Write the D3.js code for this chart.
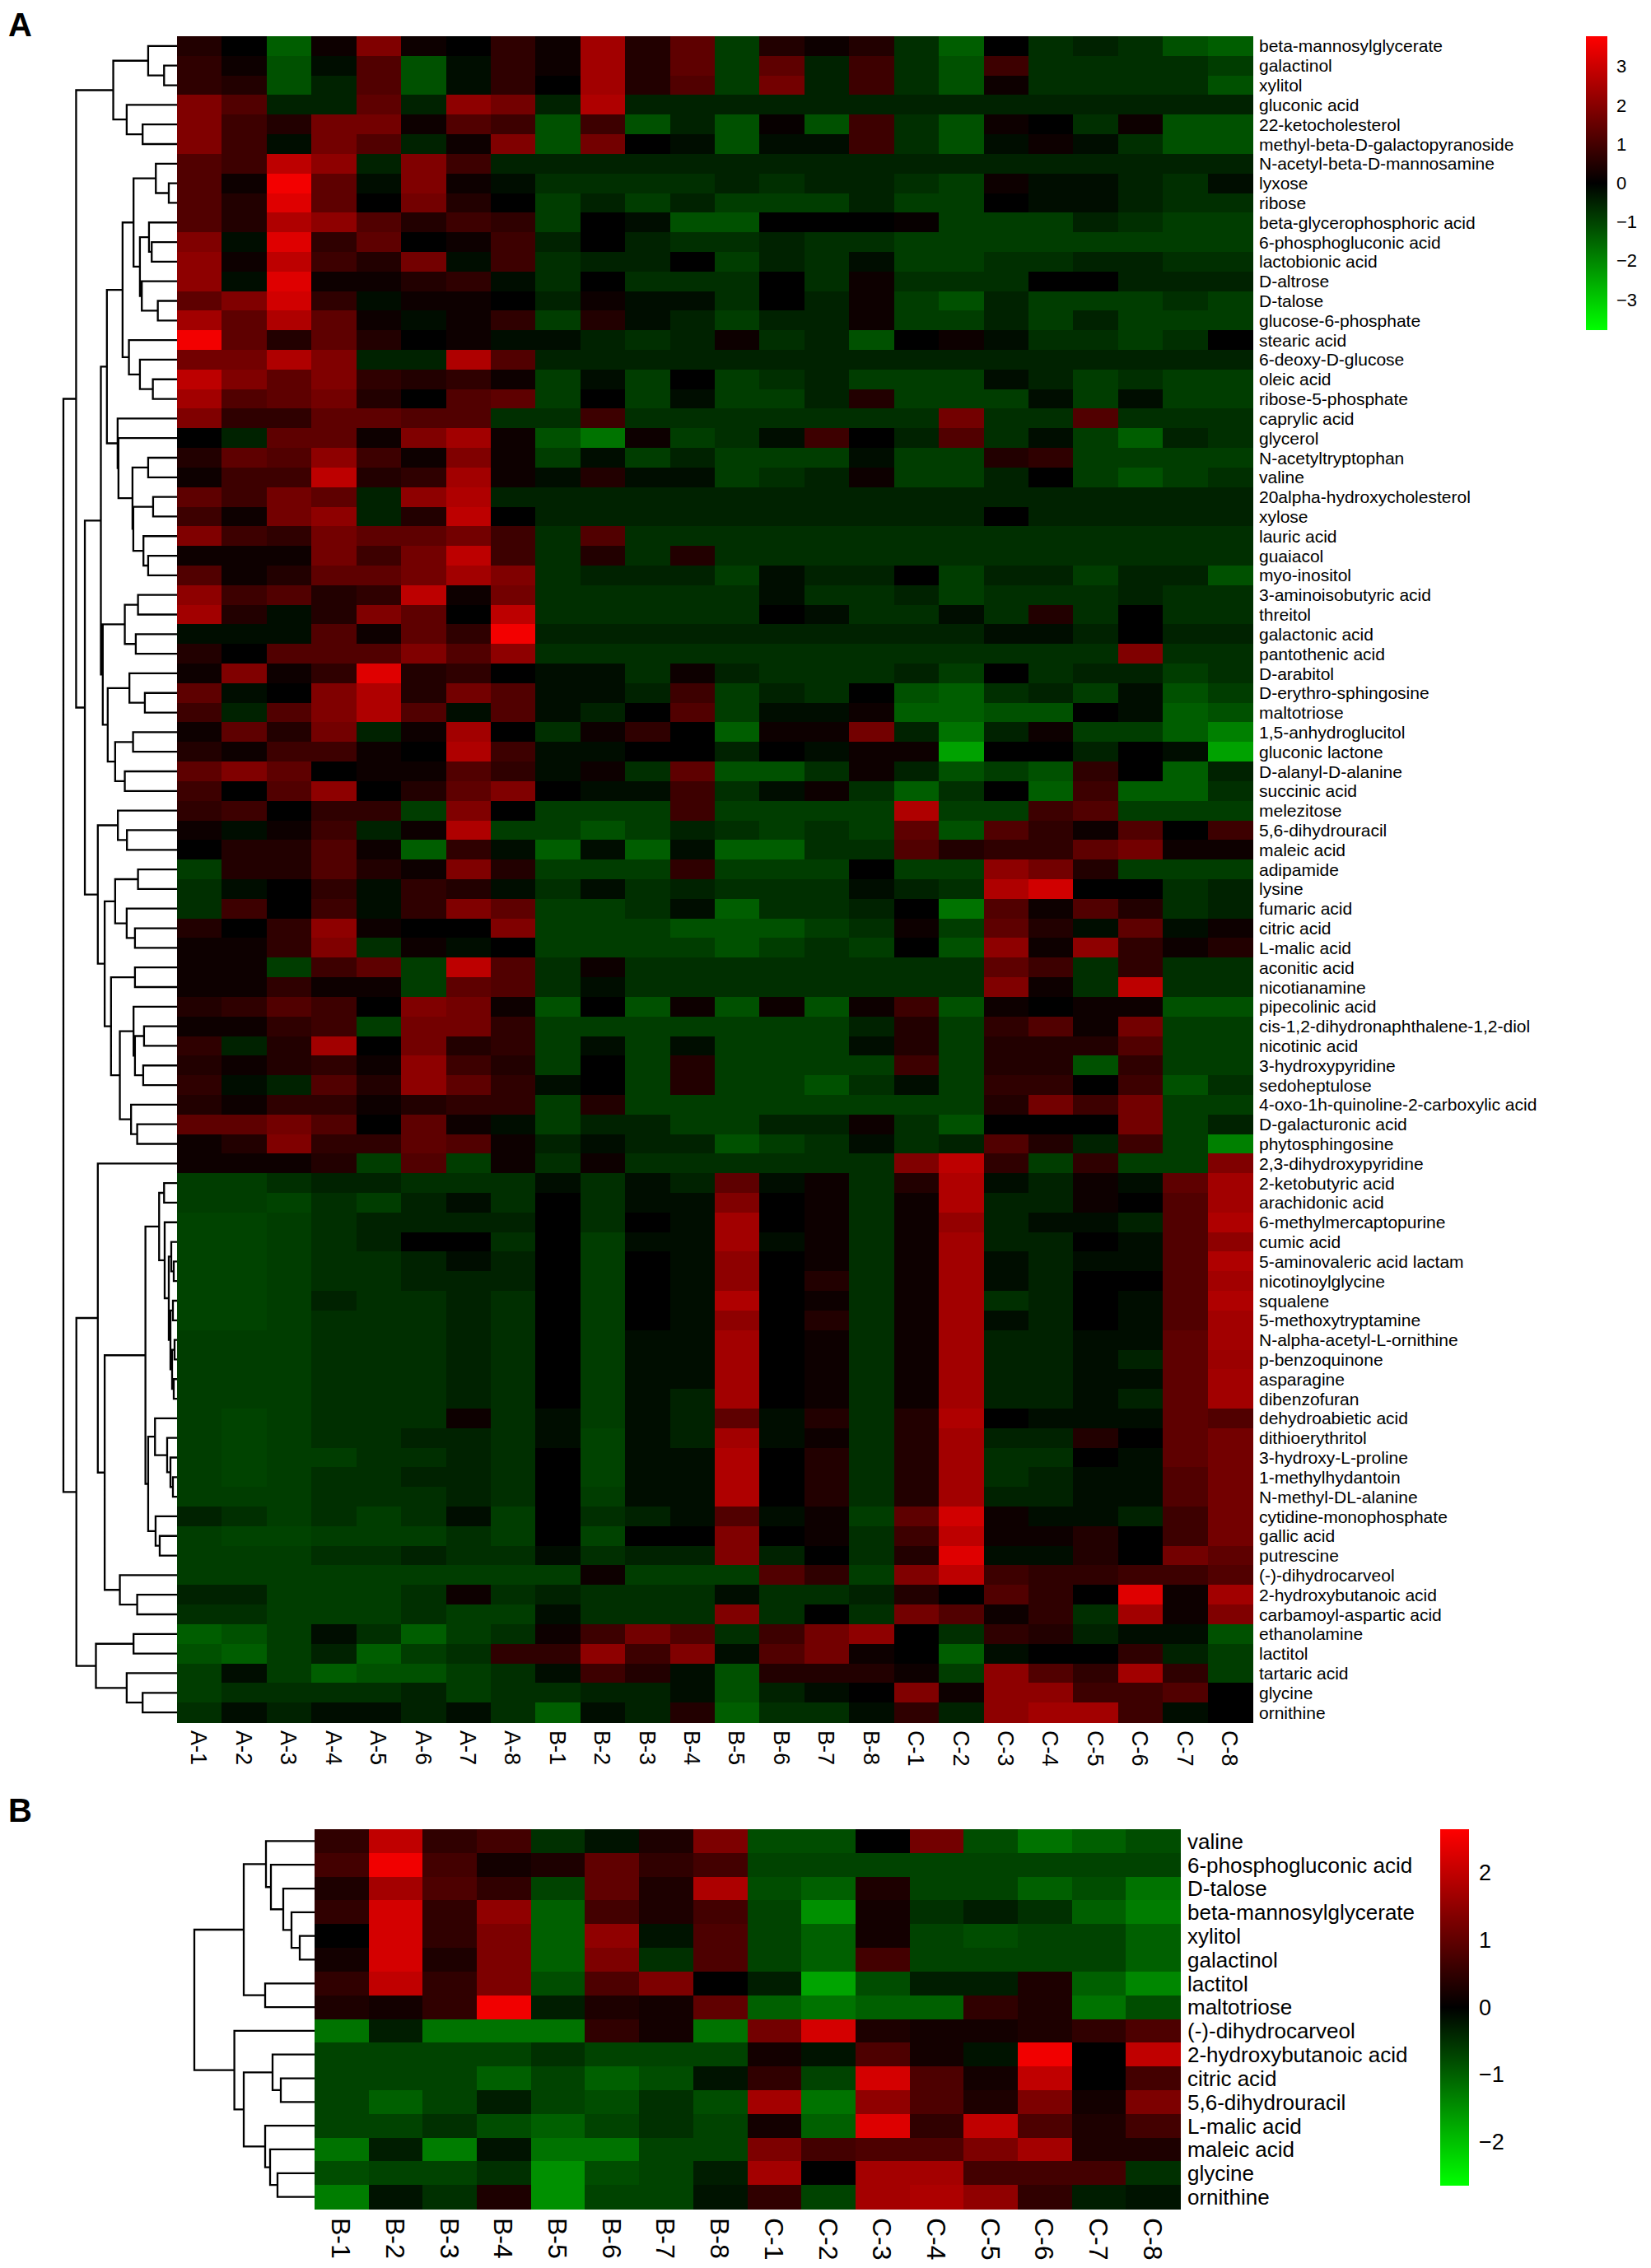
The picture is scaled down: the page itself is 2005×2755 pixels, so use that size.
<!DOCTYPE html>
<html>
<head>
<meta charset="utf-8">
<script src="https://cdn.jsdelivr.net/npm/d3@7"></script>
<style>
  body { margin: 0; background: #fff; }
  text { font-family: "Liberation Sans", Arial, sans-serif; fill: #000; }
</style>
</head>
<body>
<svg id="fig"></svg>
<script>
// ---- Panel A data ----
const colsA = ["A-1","A-2","A-3","A-4","A-5","A-6","A-7","A-8","B-1","B-2","B-3","B-4","B-5","B-6","B-7","B-8","C-1","C-2","C-3","C-4","C-5","C-6","C-7","C-8"];
const rowsA = ["beta-mannosylglycerate","galactinol","xylitol","gluconic acid","22-ketocholesterol","methyl-beta-D-galactopyranoside","N-acetyl-beta-D-mannosamine","lyxose","ribose","beta-glycerophosphoric acid","6-phosphogluconic acid","lactobionic acid","D-altrose","D-talose","glucose-6-phosphate","stearic acid","6-deoxy-D-glucose","oleic acid","ribose-5-phosphate","caprylic acid","glycerol","N-acetyltryptophan","valine","20alpha-hydroxycholesterol","xylose","lauric acid","guaiacol","myo-inositol","3-aminoisobutyric acid","threitol","galactonic acid","pantothenic acid","D-arabitol","D-erythro-sphingosine","maltotriose","1,5-anhydroglucitol","gluconic lactone","D-alanyl-D-alanine","succinic acid","melezitose","5,6-dihydrouracil","maleic acid","adipamide","lysine","fumaric acid","citric acid","L-malic acid","aconitic acid","nicotianamine","pipecolinic acid","cis-1,2-dihydronaphthalene-1,2-diol","nicotinic acid","3-hydroxypyridine","sedoheptulose","4-oxo-1h-quinoline-2-carboxylic acid","D-galacturonic acid","phytosphingosine","2,3-dihydroxypyridine","2-ketobutyric acid","arachidonic acid","6-methylmercaptopurine","cumic acid","5-aminovaleric acid lactam","nicotinoylglycine","squalene","5-methoxytryptamine","N-alpha-acetyl-L-ornithine","p-benzoquinone","asparagine","dibenzofuran","dehydroabietic acid","dithioerythritol","3-hydroxy-L-proline","1-methylhydantoin","N-methyl-DL-alanine","cytidine-monophosphate","gallic acid","putrescine","(-)-dihydrocarveol","2-hydroxybutanoic acid","carbamoyl-aspartic acid","ethanolamine","lactitol","tartaric acid","glycine","ornithine"];
const valuesA = [
[0.5,0,-1.4,0.2,1.9,0.2,0,0.7, 0.2,2.4,0.5,1.4,-0.9,0.5,0.2,0.5, -0.7,-1.4,0,-0.7,-0.5,-0.7,-1.2,-1.4],
[0.7,0.2,-1.2,-0.2,1.2,-1.2,-0.2,0.7, 0.2,2.4,0.5,1.4,-0.9,1.4,-0.5,0.9, -0.7,-1.2,0.9,-0.7,-0.7,-0.7,-0.7,-0.9],
[0.7,0.5,-1.2,-0.5,1.2,-1.2,-0.2,0.7, 0,2.4,0.5,1.2,-0.9,1.7,-0.5,0.9, -0.7,-1.2,0.2,-0.7,-0.7,-0.7,-0.7,-1.2],
[1.9,1.2,-0.5,-0.5,1.4,-0.5,2.1,1.7, -0.5,2.6,-0.5,-0.5,-0.5,-0.5,-0.5,-0.5, -0.5,-0.5,-0.5,-0.5,-0.5,-0.5,-0.5,-0.5],
[1.9,0.9,0.5,1.7,1.7,0.2,1.2,0.9, -1.2,0.9,-1.2,-0.5,-1.2,0.1,-1.2,0.9, -0.7,-1.2,0.2,0,-0.7,0.2,-1.2,-1.2],
[1.9,0.9,-0.2,1.7,1.2,-0.5,0.2,1.9, -1.2,1.7,0,-0.2,-1.2,-0.2,-0.2,0.9, -0.7,-1.2,-0.2,0.2,-0.2,-0.7,-1.2,-1.2],
[1.2,0.9,2.8,2.1,-0.5,1.9,0.9,-0.5, -0.5,-0.5,-0.5,-0.5,-0.5,-0.5,-0.5,-0.5, -0.5,-0.5,-0.5,-0.5,-0.5,-0.5,-0.5,-0.5],
[1.2,0.2,3.6,1.4,-0.2,1.9,0.2,-0.2, -0.7,-0.7,-0.7,-0.7,-0.5,-0.7,-0.5,-0.5, -0.7,-0.9,0.2,-0.2,-0.2,-0.5,-0.7,-0.2],
[1.2,0.5,3.3,1.4,0,1.7,0.5,0, -0.9,-0.5,-0.9,-0.5,-0.9,-0.9,-0.9,-0.5, -0.9,-0.9,0,-0.2,-0.2,-0.5,-0.7,-0.7],
[1.2,0.5,2.6,2.1,1.2,0.5,0.9,0.7, -0.9,0,-0.2,-1.2,-1.2,0,0,0, 0.1,-0.9,-0.9,-0.9,-0.5,-0.7,-0.9,-0.9],
[1.9,-0.2,3.3,0.7,1.4,0,0.2,0.9, -0.5,0,-0.5,-0.7,-0.7,-0.5,-0.7,-0.7, -0.9,-0.9,-0.9,-0.9,-0.9,-0.9,-0.9,-0.9],
[2.1,0.2,2.8,0.9,0.5,1.7,-0.2,0.9, -0.7,-0.5,-0.5,0,-0.9,-0.5,-0.7,-0.2, -0.9,-0.9,-0.7,-0.7,-0.5,-0.5,-0.7,-0.7],
[2.1,-0.2,3.3,0.2,0.2,0.5,0.7,-0.2, -0.7,0,-0.7,-0.7,-0.7,0,-0.7,0.2, -0.7,-0.7,-0.7,0,0,-0.5,-0.5,-0.5],
[1.4,1.9,3.1,0.7,-0.2,0.2,0.2,0, -0.5,0.2,-0.2,-0.2,-0.7,0,-0.5,0.2, -0.9,-1.2,-0.5,-0.9,-0.9,-0.9,-0.7,-0.9],
[2.4,1.4,2.6,1.4,0.2,-0.2,0.2,0.7, -0.9,0.5,-0.2,-0.5,-0.9,-0.5,-0.5,0.2, -0.9,-0.9,-0.5,-0.9,-0.5,-0.9,-0.9,-0.9],
[3.6,1.4,0.5,1.4,0.5,0,0.2,-0.2, -0.2,-0.5,-0.7,-0.5,0.2,-0.7,-0.5,-1.2, 0,0.2,-0.2,-0.7,-0.7,-0.9,-0.7,0],
[1.7,1.7,2.6,1.9,-0.5,-0.5,2.6,1.2, -0.5,-0.5,-0.5,-0.5,-0.5,-0.5,-0.5,-0.5, -0.5,-0.5,-0.5,-0.5,-0.5,-0.5,-0.5,-0.5],
[2.8,1.9,1.4,1.9,0.7,0.5,0.7,0.2, -0.9,-0.2,-0.9,0,-0.9,-0.7,-0.5,-0.9, -0.9,-0.9,-0.2,-0.5,-0.9,-0.7,-0.9,-0.9],
[2.4,1.2,1.4,1.7,0.5,0,1.2,1.4, -0.9,0,-0.9,-0.2,-0.9,-0.9,-0.5,0.5, -0.9,-0.9,-0.9,-0.2,-0.9,-0.2,-0.9,-0.9],
[1.9,0.7,0.7,1.4,1.4,1.2,1.2,-0.7, -0.7,0.9,-0.7,-0.7,-0.7,-0.7,-0.7,-0.7, -0.7,1.7,-0.7,-0.7,1.2,-0.7,-0.7,-0.7],
[0,-0.5,1.4,1.4,0.2,1.9,2.4,0.2, -1.2,-1.7,0.2,-0.9,-0.7,-0.2,0.9,0, -0.5,1.2,-0.7,-0.2,-0.9,-1.4,-0.5,-0.7],
[0.5,1.4,1.2,2.1,0.9,0.2,1.9,0.2, -0.9,-0.2,-0.9,-0.5,-0.9,-0.9,-0.9,-0.2, -0.9,-0.9,0.5,0.7,-0.9,-0.9,-0.9,-0.9],
[0.2,0.9,0.9,2.8,0.5,0.7,2.4,0.2, -0.2,0.5,-0.2,-0.2,-0.9,-0.7,-0.5,0.2, -0.9,-0.9,-0.5,0,-0.9,-1.2,-0.9,-0.7],
[1.4,0.9,1.7,1.4,-0.5,2.1,2.6,-0.5, -0.5,-0.5,-0.5,-0.5,-0.5,-0.5,-0.5,-0.5, -0.5,-0.5,-0.5,-0.5,-0.5,-0.5,-0.5,-0.5],
[0.9,0.2,1.7,2.1,-0.5,0.5,2.8,0, -0.5,-0.5,-0.5,-0.5,-0.5,-0.5,-0.5,-0.5, -0.5,-0.5,0,-0.5,-0.5,-0.5,-0.5,-0.5],
[1.9,0.9,0.7,1.7,1.4,1.4,1.7,0.9, -0.7,1.2,-0.7,-0.7,-0.7,-0.7,-0.7,-0.7, -0.7,-0.7,-0.7,-0.7,-0.7,-0.7,-0.7,-0.7],
[0.2,0.2,0.2,1.7,0.9,1.7,2.8,0.9, -0.7,0.5,-0.7,0.5,-0.7,-0.7,-0.7,-0.7, -0.7,-0.7,-0.7,-0.7,-0.7,-0.7,-0.7,-0.7],
[1.2,0.2,0.5,1.4,1.4,1.7,2.4,1.9, -0.7,-0.5,-0.5,-0.5,-0.9,-0.2,-0.5,-0.5, 0,-0.9,-0.5,-0.5,-0.9,-0.5,-0.5,-1.2],
[2.1,0.9,1.2,0.5,0.7,2.8,0.2,1.7, -0.7,-0.7,-0.7,-0.7,-0.7,-0.2,-0.7,-0.7, -0.5,-0.9,-0.7,-0.7,-0.7,-0.5,-0.7,-0.7],
[2.4,0.5,-0.2,0.5,1.9,1.4,0,2.8, -0.7,-0.7,-0.7,-0.7,-0.7,0,-0.2,-0.7, -0.7,-0.2,-0.7,0.5,-0.7,0,-0.7,-0.7],
[-0.2,-0.2,-0.2,1.2,0.2,1.4,0.7,3.6, -0.5,-0.5,-0.5,-0.5,-0.5,-0.5,-0.5,-0.5, -0.5,-0.5,-0.2,-0.2,-0.5,0,-0.5,-0.5],
[0.5,0,1.2,1.2,1.2,1.9,1.2,2.1, -0.7,-0.7,-0.7,-0.7,-0.7,-0.7,-0.7,-0.7, -0.7,-0.7,-0.7,-0.7,-0.7,1.9,-0.7,-0.7],
[0.2,1.9,0.2,0.7,3.3,0.5,0.7,0, -0.2,-0.2,-0.7,0.2,-0.5,-0.7,-0.7,-0.7, -0.5,-0.9,0,-0.7,-0.5,-0.5,-0.9,-0.7],
[1.4,-0.2,0,1.9,2.6,0.5,1.7,1.2, -0.2,-0.2,-0.5,0.9,-0.9,-0.5,-0.7,0, -1.2,-1.4,-0.7,-0.5,-0.9,-0.2,-1.2,-0.9],
[0.9,-0.5,1.2,1.9,2.6,1.2,-0.2,1.2, -0.2,-0.5,0,1.2,-0.9,-0.2,-0.2,0.2, -1.4,-1.4,-1.2,-1.2,0,-0.2,-1.4,-1.2],
[0.2,1.4,0.5,1.7,-0.5,0.2,2.4,0, -0.7,0.2,0.7,0,-1.4,0.2,0.2,1.7, -0.5,-1.7,-0.5,0.2,-0.9,-0.9,-1.4,-1.9],
[0.5,0.2,0.9,0.9,0.2,0,2.6,0.9, -0.2,-0.2,0,0,-0.5,0,-0.2,0.2, 0.2,-2.4,0,0,-0.5,0,-0.2,-2.4],
[1.4,1.9,1.4,0,0.2,0.2,1.2,0.7, -0.2,0.2,-0.7,1.4,-1.2,-1.2,-0.7,0.2, -0.5,-1.2,-0.9,-1.2,0.7,0,-1.4,-0.5],
[0.9,0,1.2,2.1,0,0.5,1.4,1.9, 0,-0.2,-0.2,0.9,-0.7,-0.2,0.2,-0.7, -1.4,-0.7,0,-1.4,0.9,-1.4,-1.4,-0.7],
[0.7,0.9,0,0.7,0.7,-0.9,1.9,0, -0.9,-0.9,-0.9,0.9,-0.9,-0.9,-0.9,-0.9, 2.6,-0.9,-0.9,0.9,1.2,-0.9,-0.9,-0.9],
[0.2,-0.2,0.2,0.9,-0.5,0.2,2.6,-0.9, -0.9,-1.2,-0.9,-0.5,-0.7,-0.9,-0.7,-0.9, 1.4,-1.2,1.2,0.7,0.2,1.2,0,0.9],
[0,0.5,0.5,1.2,0.2,-1.4,0.7,-0.2, -1.4,-0.2,-1.4,-0.2,-1.4,-1.4,-0.7,-0.7, 1.2,0.5,0.7,0.7,1.4,1.7,0.2,0.2],
[-0.9,0.5,0.5,1.2,0.5,0.2,1.9,0.5, -0.9,-0.9,-0.9,0.7,-0.9,-0.9,-0.9,0, -0.9,-0.9,2.1,1.7,0.5,-0.9,-0.9,-0.9],
[-0.7,-0.2,0,0.7,-0.2,0.7,0.5,-0.2, -0.7,-0.2,-0.7,-0.5,-0.7,-0.7,-0.7,-0.2, -0.5,-0.7,2.6,3.1,0,0,-0.7,-0.5],
[-0.7,0.9,0,0.9,-0.2,0.7,1.9,1.4, -0.9,-0.9,-0.7,-0.2,-1.4,-0.7,-0.7,-0.5, 0,-1.7,1.2,0.2,1.2,0.5,-0.7,-0.5],
[0.5,0,0.7,2.1,0.2,0,0,1.9, -0.9,-0.9,-0.9,-1.2,-1.2,-1.2,-0.9,-0.7, 0.2,-0.9,1.4,0.5,-0.2,1.4,-0.2,0.2],
[0.2,0.2,0.7,1.9,-0.7,0.2,-0.2,0, -0.9,-0.9,-0.9,-0.9,-1.2,-0.9,-0.7,-0.9, 0,-1.2,2.1,0.2,2.1,0.7,0.2,0.5],
[0.2,0.2,-0.9,0.9,1.4,-0.9,2.8,1.2, -0.7,0.2,-0.7,-0.7,-0.7,-0.7,-0.7,-0.7, -0.7,-0.7,1.4,0.9,-0.7,0.7,-0.7,-0.7],
[0.2,0.2,0.7,0.2,0.2,-0.9,1.4,1.2, -0.7,-0.2,-0.7,-0.7,-0.7,-0.7,-0.7,-0.7, -0.7,-0.7,1.9,0.2,-0.7,2.8,-0.7,-0.7],
[0.5,0.7,1.2,0.9,0,1.9,1.7,0.2, -1.2,0,-1.2,0.2,-1.2,0.2,-1.2,0.2, 0.9,-1.2,0.2,0,0.2,0.2,-1.2,-1.2],
[0.2,0.2,0.7,0.9,-0.9,1.7,1.7,0.7, -0.9,-0.9,-0.9,-0.9,-0.9,-0.9,-0.9,-0.5, 0.5,-0.9,0.7,1.2,0.2,1.7,-0.9,-0.9],
[0.7,-0.5,0.5,2.4,0,1.7,0.5,0.7, -0.9,-0.2,-0.9,-0.2,-0.9,-0.9,-0.9,-0.2, 0.5,-0.9,0.5,0.5,0.5,1.2,-0.9,-0.9],
[0.5,0.2,0.5,0.7,0.2,2.1,0.9,0.5, -0.9,0,-0.9,0.5,-0.9,-0.9,-0.9,-0.9, 0.9,-0.9,0.5,0.5,-1.2,0.7,-0.9,-0.9],
[0.7,-0.2,-0.5,1.2,0.5,2.1,1.4,0.7, -0.2,0,-0.9,0.5,-0.9,-0.9,-1.2,-0.7, -0.2,-0.9,0.7,0.7,0,0.9,-1.2,-0.7],
[0.5,0.2,0.7,0.7,0.2,0.5,0.7,0.7, -0.9,0.5,-0.9,-0.9,-0.9,-0.9,-0.9,-0.9, -0.9,-0.9,0.5,1.7,0.9,1.7,-0.9,-0.9],
[1.4,1.4,1.7,1.2,0,1.4,0.2,-0.2, -0.9,-0.5,-0.5,-0.9,-0.9,-0.5,-0.5,0.2, -0.7,-1.2,0,0,0,1.7,-0.9,-0.5],
[0.2,0.5,1.9,0.7,0.7,1.4,1.2,0.2, -0.5,-0.2,-0.5,-0.5,-1.2,-0.9,-0.7,-0.2, -0.7,-0.5,1.2,0.5,-0.5,0.9,-0.9,-1.9],
[0.2,0.2,0.2,0.5,-0.9,1.2,-0.9,0.2, -0.7,0.2,-0.7,-0.7,-0.7,-0.7,-0.7,-0.7, 1.9,2.8,0.7,-0.9,0.7,-0.9,-0.9,1.9],
[-0.9,-0.9,-0.7,-0.5,-0.5,-0.7,-0.7,-0.7, -0.2,-0.7,-0.2,-0.5,1.4,-0.2,0.2,-0.7, 0.5,2.6,-0.2,-0.5,0.2,-0.2,1.4,2.4],
[-0.9,-0.9,-1.0,-0.7,-0.9,-0.5,-0.2,-0.7, 0,-0.7,-0.2,-0.2,1.9,0,0.2,-0.7, 0.2,2.6,-0.5,-0.5,0.2,0,1.2,2.4],
[-1.0,-1.0,-0.9,-0.7,-0.5,-0.5,-0.5,-0.5, 0,-0.7,0,-0.2,2.4,0,0.2,-0.7, 0.2,2.2,-0.5,-0.2,-0.2,-0.5,1.2,2.6],
[-1.0,-1.0,-0.9,-0.7,-0.5,0,0,-0.7, 0,-0.9,-0.2,-0.2,2.4,-0.2,0.2,-0.7, 0.2,2.4,-0.5,-0.5,0,-0.2,1.2,2.1],
[-1.0,-1.0,-0.9,-0.7,-0.7,-0.5,-0.2,-0.5, 0,-0.9,0,-0.2,2.1,0,0.2,-0.7, 0.2,2.4,-0.2,-0.5,-0.2,-0.2,1.2,2.6],
[-1.0,-1.0,-0.9,-0.7,-0.7,-0.5,-0.5,-0.5, 0,-0.9,0,-0.2,2.1,0,0.5,-0.7, 0.2,2.4,-0.2,-0.5,0,0,1.2,2.4],
[-1.0,-1.0,-0.9,-0.5,-0.7,-0.7,-0.5,-0.7, 0,-0.9,0,-0.2,2.6,0,0.2,-0.7, 0.2,2.4,-0.7,-0.5,0,-0.2,1.2,2.6],
[-1.0,-1.0,-0.9,-0.7,-0.7,-0.7,-0.5,-0.7, 0,-0.9,0,-0.2,2.1,0,0.5,-0.7, 0.2,2.4,-0.2,-0.5,0,-0.2,1.2,2.4],
[-0.9,-0.9,-0.9,-0.7,-0.7,-0.7,-0.5,-0.7, 0,-0.9,-0.2,-0.2,2.4,0,0.2,-0.7, 0.2,2.4,-0.5,-0.5,-0.2,-0.2,1.4,2.4],
[-0.9,-0.9,-0.9,-0.7,-0.7,-0.7,-0.5,-0.7, 0,-0.9,-0.2,-0.2,2.4,0,0.2,-0.7, 0.2,2.4,-0.5,-0.5,-0.2,-0.5,1.4,2.3],
[-0.9,-0.9,-0.9,-0.7,-0.7,-0.7,-0.5,-0.7, 0,-0.9,-0.2,-0.2,2.4,0,0.2,-0.7, 0.2,2.4,-0.5,-0.5,-0.2,-0.2,1.4,2.4],
[-0.9,-0.9,-0.9,-0.7,-0.7,-0.7,-0.5,-0.7, 0,-0.9,-0.2,-0.5,2.4,0,0.2,-0.7, 0.2,2.4,-0.5,-0.5,-0.2,-0.5,1.4,2.4],
[-0.9,-1.0,-0.9,-0.7,-0.7,-0.7,0.2,-0.7, -0.2,-0.9,-0.2,-0.5,1.4,-0.2,0.5,-0.7, 0.5,2.6,0,-0.2,-0.2,-0.2,1.4,1.2],
[-0.9,-1.0,-0.9,-0.7,-0.7,-0.5,-0.5,-0.7, -0.2,-1.0,-0.2,-0.5,2.4,-0.2,0.2,-0.7, 0.5,2.4,-0.5,-0.5,0.5,0,1.4,1.7],
[-0.9,-1.0,-0.9,-0.9,-0.7,-0.7,-0.5,-0.7, 0,-1.0,-0.2,-0.2,2.6,0,0.5,-0.7, 0.5,2.4,-0.7,-0.7,0,-0.2,1.4,1.7],
[-0.9,-1.0,-0.9,-0.7,-0.7,-0.5,-0.5,-0.7, 0,-1.0,-0.2,-0.2,2.6,0,0.5,-0.7, 0.5,2.4,-0.7,-0.5,-0.2,-0.2,1.2,1.7],
[-0.9,-0.9,-0.9,-0.7,-0.7,-0.7,-0.5,-0.7, 0,-0.9,-0.2,-0.2,2.6,0,0.5,-0.7, 0.5,2.4,-0.5,-0.5,-0.2,-0.2,1.2,1.7],
[-0.5,-0.7,-0.9,-0.7,-0.9,-0.7,-0.2,-0.9, 0,-0.7,-0.5,-0.2,1.2,-0.2,0.2,-0.9, 1.4,3.1,0.2,-0.2,-0.2,-0.5,0.9,1.7],
[-0.9,-1.0,-1.0,-0.9,-0.9,-0.9,-0.7,-0.9, 0,-1.0,0,0,1.9,0,0.2,-0.7, 0.9,2.8,0.2,0.2,0.5,0,0.9,1.7],
[-0.9,-0.9,-0.9,-0.7,-0.7,-0.5,-0.7,-0.7, -0.2,-0.7,-0.5,-0.5,1.9,-0.5,0,-0.7, 0.5,3.3,-0.2,-0.2,0.5,0,1.7,1.4],
[-0.9,-0.9,-0.9,-0.9,-0.9,-0.9,-0.9,-0.9, -0.9,0.2,-0.9,-0.9,-0.9,1.2,0.7,-0.9, 1.9,2.8,0.9,0.7,0.7,0.9,0.9,1.2],
[-0.5,-0.5,-0.9,-0.9,-0.9,-0.7,0.2,-0.7, -0.5,-0.7,-0.7,-0.7,-0.2,-0.7,-0.7,-0.5, 0.5,0,1.2,0.7,0,3.3,0.2,2.4],
[-0.7,-0.7,-0.9,-0.9,-0.9,-0.7,-0.9,-0.9, -0.2,-0.7,-0.7,-0.7,1.9,-0.7,0,-0.7, 1.7,1.2,0.2,0.7,-0.7,2.4,0.2,1.9],
[-1.4,-1.2,-0.9,-0.2,-0.7,-1.4,-0.9,-0.7, 0.2,0.9,1.7,1.2,-0.7,0.9,1.7,2.1, 0,-0.7,0.7,0.5,-0.5,-0.2,-0.2,-1.2],
[-1.2,-1.4,-0.9,-0.5,-1.4,-0.9,-0.7,0.7, 0.7,2.1,0.9,1.9,-0.2,1.2,1.7,0.2, 0,-1.4,-0.2,0,0,0.7,-0.5,-0.9],
[-0.9,-0.2,-0.9,-1.4,-1.2,-1.2,-0.9,-0.7, -0.2,0.9,0.5,-0.2,-1.2,0.5,0.5,0.5, 0.2,-0.9,2.1,1.2,0.7,2.4,0.7,-0.9],
[-0.9,-0.7,-0.7,-0.7,-0.7,-0.5,-0.9,-0.7, -0.7,-0.5,-0.5,-0.2,-1.2,-0.5,-0.2,0, 1.9,0.2,2.1,2.1,0.9,0.9,1.2,0],
[-0.7,-0.2,-0.5,-0.2,-0.2,-0.5,-0.2,-0.7, -1.4,-0.2,-0.5,0.5,-1.4,-0.7,-0.7,-0.2, 0.7,-0.5,2.1,2.4,2.4,0.9,-0.2,0]
];
// row dendrogram A: [merge height, left, right]; leaves are row indices
const treeA = [137.7,
  [122.3,
    [77.3, [35, 0, [15.7, 1, 2]], [61, 3, [41.7, 4, 5]]],
    [111.7,
      [92.3,
        [85,
          [66,
            [52.7, [25.7, 6, [10, 7, 8]], [45, [34, 9, [30.7, 10, 11]], [42.7, 12, [23.3, 13, 14]]]],
            [58.3, 15, [45, 16, [29.3, 17, 18]]]],
          [72, 19, [71, 20, [54, [35, 21, 22], [53, [29, 23, 24], [40.7, 25, [35, 26, 27]]]]]]],
        [90,
          [63.3, [47.3, 28, 29], [50, 30, 31]],
          [84, [57.7, 32, [39, 33, 34]], [75, [53.3, 35, 36], [63.3, 37, 38]]]]],
      [96,
        [71.7, 39, [60.7, 40, 41]],
        [87.7,
          [75, [47.3, 42, 43], [61, 44, [51, 45, 46]]],
          [80, [51, 47, 48],
            [69.3, [52.7, 49, [51, [40, 50, 51], [41, 52, 53]]], [55.7, 54, [48.3, 55, 56]]]]]]]],
  [122,
    [96, 57,
      [87.7,
        [38.3,
          [21.7, [15.7, 58, 59],
            [15, 60, [10, [7, 61, [4, 62, 63]], [8, [5, 64, 65], [6, [3, 66, 67], [4, 68, 69]]]]]],
          [35, [26.7, 70, [12, 71, [8, 72, [5, 73, 74]]]], [26, 75, [21, 76, 77]]]],
        [69.3, 78, [48.3, 79, 80]]]],
    [98.3, [52.7, 81, 82], [61, 83, [41.7, 84, 85]]]]];
const ticksA = [-3, -2, -1, 0, 1, 2, 3];

// ---- Panel B data ----
const colsB = ["B-1","B-2","B-3","B-4","B-5","B-6","B-7","B-8","C-1","C-2","C-3","C-4","C-5","C-6","C-7","C-8"];
const rowsB = ["valine","6-phosphogluconic acid","D-talose","beta-mannosylglycerate","xylitol","galactinol","lactitol","maltotriose","(-)-dihydrocarveol","2-hydroxybutanoic acid","citric acid","5,6-dihydrouracil","L-malic acid","maleic acid","glycine","ornithine"];
const valuesB = [
[0.5,2.0,0.5,0.7,-0.5,-0.2,0.3,1.3, -0.8,-0.8,0,1.2,-0.8,-1.2,-1.0,-0.8],
[0.7,2.5,0.7,0.2,0.3,1.0,0.5,0.7, -0.7,-0.7,-0.7,-0.7,-0.7,-0.7,-0.7,-0.7],
[0.3,1.7,0.8,0.5,-0.7,1.0,0.3,1.8, -0.8,-1.0,0.3,-0.7,-0.7,-1.0,-0.8,-1.2],
[0.5,2.2,0.5,1.5,-1.0,0.7,0.3,0.7, -0.7,-1.5,0.2,-0.5,-0.3,-0.5,-1.0,-1.3],
[0,2.2,0.5,1.3,-1.0,1.5,-0.2,0.8, -0.7,-1.0,0.2,-0.7,-0.8,-0.7,-0.7,-1.0],
[0.2,2.2,0.3,1.3,-1.0,1.3,-0.5,0.8, -0.7,-1.0,0.7,-0.7,-0.7,-0.7,-0.7,-1.0],
[0.5,2.0,0.5,1.3,-0.8,0.8,1.3,0, -0.3,-1.7,-0.8,-0.3,-0.3,0.3,-1.0,-1.4],
[0.3,0.2,0.5,2.5,-0.3,0.3,0.2,1.0, -1.0,-1.2,-1.0,-1.0,0.5,0.3,-1.2,-0.8],
[-1.2,-0.3,-1.2,-1.2,-1.2,0.5,0.2,-1.2, 1.2,2.2,0.3,0.2,0.2,0.3,0.5,0.8],
[-0.7,-0.7,-0.7,-0.7,-0.5,-0.7,-0.7,-0.7, 0.2,-0.2,0.8,0.2,-0.2,2.5,0,2.0],
[-0.7,-0.7,-0.7,-1.0,-0.7,-1.0,-0.8,-0.2, 0.5,-0.7,2.2,0.8,0.2,2.0,0,0.7],
[-0.7,-1.0,-0.7,-0.3,-0.7,-0.8,-0.5,-0.8, 1.7,-1.2,1.5,0.8,0.3,1.3,0.2,1.3],
[-0.7,-0.7,-0.5,-0.8,-1.0,-0.7,-0.5,-0.7, 0.2,-1.0,2.3,0.5,2.0,0.8,0.3,0.7],
[-1.2,-0.3,-1.3,-0.2,-1.2,-1.2,-0.7,-0.7, 1.3,0.7,0.8,0.8,1.3,1.7,0.3,0.3],
[-0.8,-0.7,-0.7,-0.5,-1.5,-0.8,-0.7,-0.3, 1.7,0,1.7,1.7,0.7,0.7,0.7,-0.5],
[-1.3,-0.2,-0.5,0.3,-1.5,-0.7,-0.7,-0.2, 0.5,-0.7,1.7,1.8,1.5,0.5,-0.3,-0.2]
];
const treeB = [146,
  [86, [59, 0, [53, 1, [38, 2, [28, 3, [18, 4, 5]]]]], [60, 6, 7]],
  [97.4, 8, [86, [51, 9, [41, 10, 11]], [60, 12, [54, 13, [45, 14, 15]]]]]];
const ticksB = [-2, -1, 0, 1, 2];

// ---- drawing ----
const svg = d3.select("#fig").attr("width", 2005).attr("height", 2755);
svg.append("rect").attr("width", 2005).attr("height", 2755).attr("fill", "#fff");
const defs = svg.append("defs");

function drawPanel(p) {
  const g = svg.append("g");
  const x = d3.scaleBand().domain(p.cols).range([p.left, p.right]);
  const y = d3.scaleBand().domain(d3.range(p.rows.length)).range([p.top, p.bottom]);
  const color = d3.scaleLinear().domain([-p.lim, 0, p.lim])
    .range(["#00ff00", "#000000", "#ff0000"]).clamp(true);

  // heatmap cells
  const cells = p.values.flatMap((row, i) => row.map((v, j) => ({ i, j, v })));
  g.append("g").attr("shape-rendering", "crispEdges")
    .selectAll("rect").data(cells).join("rect")
    .attr("x", d => x(p.cols[d.j]))
    .attr("y", d => y(d.i))
    .attr("width", x.bandwidth() + 0.6)
    .attr("height", y.bandwidth() + 0.6)
    .attr("fill", d => color(d.v));

  // row labels
  g.append("g").selectAll("text").data(p.rows).join("text")
    .attr("x", p.right + p.labelGap)
    .attr("y", (d, i) => y(i) + y.bandwidth() / 2)
    .attr("dy", "0.36em")
    .style("font-size", p.rowFont + "px")
    .text(d => d);

  // column labels, vertical
  g.append("g").selectAll("text").data(p.cols).join("text")
    .attr("transform", d => `translate(${x(d) + x.bandwidth() / 2},${p.bottom + p.colGap}) rotate(90)`)
    .attr("dy", "0.36em")
    .style("font-size", p.colFont + "px")
    .text(d => d);

  // row dendrogram
  const hx = d3.scaleLinear().domain([0, p.tree[0]]).range([p.left, p.rootX]);
  const segs = [];
  function walk(node) {
    if (typeof node === "number") return { y: y(node) + y.bandwidth() / 2, h: 0 };
    const [ht, a, b] = node;
    const A = walk(a), B = walk(b);
    const xx = hx(ht);
    segs.push(`M${hx(A.h)},${A.y}H${xx}V${B.y}H${hx(B.h)}`);
    return { y: (A.y + B.y) / 2, h: ht };
  }
  walk(p.tree);
  g.append("path")
    .attr("d", segs.join(""))
    .attr("fill", "none")
    .attr("stroke", "#000")
    .attr("stroke-width", 2.3)
    .attr("stroke-linejoin", "miter");

  // colour key
  const gradId = "grad" + p.id;
  const grad = defs.append("linearGradient").attr("id", gradId)
    .attr("x1", 0).attr("y1", 1).attr("x2", 0).attr("y2", 0);
  d3.range(0, 1.0001, 0.05).forEach(t => {
    grad.append("stop").attr("offset", t).attr("stop-color", color(-p.lim + 2 * p.lim * t));
  });
  g.append("rect")
    .attr("x", p.key.x).attr("y", p.key.top)
    .attr("width", p.key.w).attr("height", p.key.bottom - p.key.top)
    .attr("fill", `url(#${gradId})`);
  const ky = d3.scaleLinear().domain([-p.lim, p.lim]).range([p.key.bottom, p.key.top]);
  const axis = g.append("g")
    .attr("transform", `translate(${p.key.x + p.key.w},0)`)
    .call(d3.axisRight(ky).tickValues(p.ticks).tickSize(0).tickPadding(p.key.pad).tickFormat(d3.format("d")));
  axis.select(".domain").remove();
  axis.selectAll("text")
    .style("font-family", '"Liberation Sans", Arial, sans-serif')
    .style("font-size", p.key.font + "px")
    .attr("fill", "#000");

  // panel letter
  svg.append("text")
    .attr("x", 10).attr("y", p.letterY)
    .style("font-size", "40px").style("font-weight", "bold")
    .text(p.id);
}

drawPanel({
  id: "A", rows: rowsA, cols: colsA, values: valuesA, tree: treeA, ticks: ticksA,
  lim: 3.78, left: 215, right: 1521, top: 44, bottom: 2092, rootX: 77,
  labelGap: 8, rowFont: 21, colGap: 10, colFont: 27, letterY: 44,
  key: { x: 1926, w: 26, top: 44, bottom: 401, pad: 11, font: 22 }
});

drawPanel({
  id: "B", rows: rowsB, cols: colsB, values: valuesB, tree: treeB, ticks: ticksB,
  lim: 2.65, left: 382, right: 1433, top: 2222, bottom: 2683, rootX: 236,
  labelGap: 9, rowFont: 26, colGap: 11, colFont: 32, letterY: 2213,
  key: { x: 1749, w: 35, top: 2222, bottom: 2655, pad: 12, font: 27 }
});
</script>
</body>
</html>
